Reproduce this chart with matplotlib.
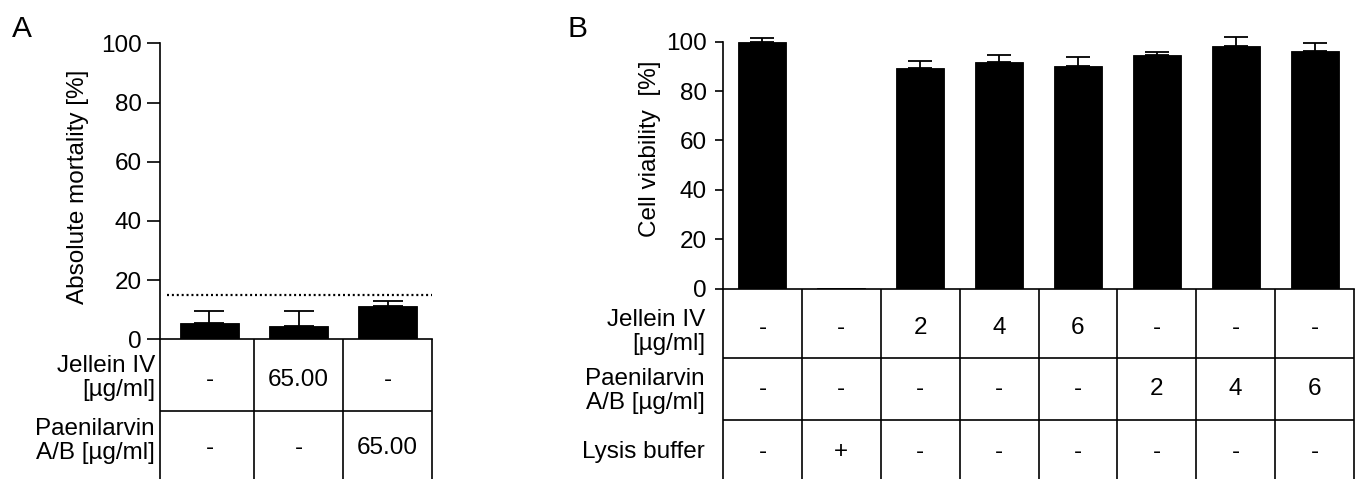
import matplotlib
matplotlib.use("Agg")
import matplotlib.pyplot as plt
import matplotlib.transforms as mtransforms
import numpy as np

# ----------------------------- data ------------------------------------

# Panel A: larval mortality
a_mortality = [5.6, 4.6, 11.2]
a_mortality_sd = [4.0, 5.0, 1.6]
a_threshold = 15
a_row_labels = ["Jellein IV\n[µg/ml]", "Paenilarvin\nA/B [µg/ml]"]
a_cells = [["-", "65.00", "-"],
           ["-", "-", "65.00"]]

# Panel B: cell viability
b_viability = [100.0, 0.4, 89.5, 91.6, 90.0, 94.5, 98.4, 96.2]
b_viability_sd = [1.6, 0.0, 2.5, 2.9, 3.8, 1.5, 3.5, 3.1]
b_row_labels = ["Jellein IV\n[µg/ml]", "Paenilarvin\nA/B [µg/ml]", "Lysis buffer"]
b_cells = [["-", "-", "2", "4", "6", "-", "-", "-"],
           ["-", "-", "-", "-", "-", "2", "4", "6"],
           ["-", "+", "-", "-", "-", "-", "-", "-"]]

yticks = [0, 20, 40, 60, 80, 100]

# ----------------------------- styling ---------------------------------

W, H = 1359, 479
FS = 17.5
LW = 1.2

plt.rcParams.update({
    "font.family": ["Liberation Sans", "DejaVu Sans"],
    "font.size": FS,
    "axes.linewidth": LW,
})


def rect(left, top, right, bottom):
    """Pixel box (origin top-left) -> figure fraction rect."""
    return [left / W, 1 - bottom / H, (right - left) / W, (bottom - top) / H]


def bar_panel(fig, box, means, sds, xlim, width, ylabel, label_xy,
              cap, tick_len, tick_pad):
    ax = fig.add_axes(rect(*box))
    x = np.arange(len(means))
    means = np.asarray(means)
    sds = np.asarray(sds)
    ax.bar(x, means, width=width, color="black", edgecolor="black",
           linewidth=0.6, zorder=2)
    has = sds > 0
    eb = ax.errorbar(x[has], means[has],
                     yerr=[np.zeros(has.sum()), sds[has]],
                     fmt="none", ecolor="black", elinewidth=1.3,
                     capsize=cap, capthick=1.3, zorder=1)
    for art in eb.get_children():
        art.set_clip_on(False)
    ax.set_xlim(*xlim)
    ax.set_ylim(0, 100)
    ax.set_yticks(yticks)
    ax.set_xticks([])
    ax.spines["top"].set_visible(False)
    ax.spines["right"].set_visible(False)
    ax.tick_params(axis="y", length=tick_len, width=LW, pad=tick_pad,
                   labelsize=FS)
    ax.set_ylabel(ylabel, fontsize=FS, va="center")
    ax.yaxis.set_label_coords(*label_xy)
    return ax


def table_panel(fig, box, xlim, row_edges, row_labels, label_y, cells,
                cell_y, label_gap):
    left, top, right, bottom = box
    tax = fig.add_axes(rect(*box))
    tax.set_xlim(*xlim)
    tax.set_ylim(bottom, top)
    tax.axis("off")
    n = len(cells[0])
    bounds = [xlim[0]] + [i + 0.5 for i in range(n - 1)] + [xlim[1]]
    tax.vlines(bounds, top, bottom, color="black", lw=LW, clip_on=False)
    tax.hlines(row_edges, xlim[0], xlim[1], color="black", lw=LW,
               clip_on=False)
    trans = mtransforms.blended_transform_factory(tax.transAxes, tax.transData)
    for lab, y in zip(row_labels, label_y):
        tax.text(-label_gap / (right - left), y, lab, transform=trans,
                 ha="right", va="center", fontsize=FS, linespacing=1.15)
    for row, y in zip(cells, cell_y):
        for i, val in enumerate(row):
            tax.text(i, y, val, ha="center", va="center", fontsize=FS)
    return tax


# ----------------------------- figure ----------------------------------

fig = plt.figure(figsize=(W / 100, H / 100), dpi=100)

# Panel A
a_box = (160, 43.3, 432.3, 339.3)
a_xlim = (-0.555, 2.5)
axA = bar_panel(fig, a_box, a_mortality, a_mortality_sd, a_xlim, 0.66,
                "Absolute mortality [%]", (-0.301, 0.515),
                cap=10.8, tick_len=9.4, tick_pad=3.6)
axA.axhline(a_threshold, xmin=0.026, xmax=1.0, color="black", lw=1.6,
            ls=(0, (0.9, 1.3)), zorder=3)
table_panel(fig, (160, 339.3, 432.3, 479), a_xlim, [410.7],
            a_row_labels, [378, 441], a_cells, [380, 448], label_gap=5)

# Panel B
b_box = (723, 41.7, 1354, 288.7)
b_xlim = (-0.5, 7.5)
axB = bar_panel(fig, b_box, b_viability, b_viability_sd, b_xlim, 0.61,
                "Cell viability  [%]", (-0.1157, 0.566),
                cap=8.6, tick_len=5.8, tick_pad=5.8)
table_panel(fig, (723, 288.7, 1354, 479), b_xlim, [358, 420],
            b_row_labels, [332, 391, 452], b_cells, [328, 389, 452],
            label_gap=18)

# Panel letters
fig.text(12 / W, 1 - 37 / H, "A", fontsize=21.5, ha="left", va="baseline")
fig.text(567 / W, 1 - 37 / H, "B", fontsize=21.5, ha="left", va="baseline")

fig.savefig("out.png", dpi=100)
